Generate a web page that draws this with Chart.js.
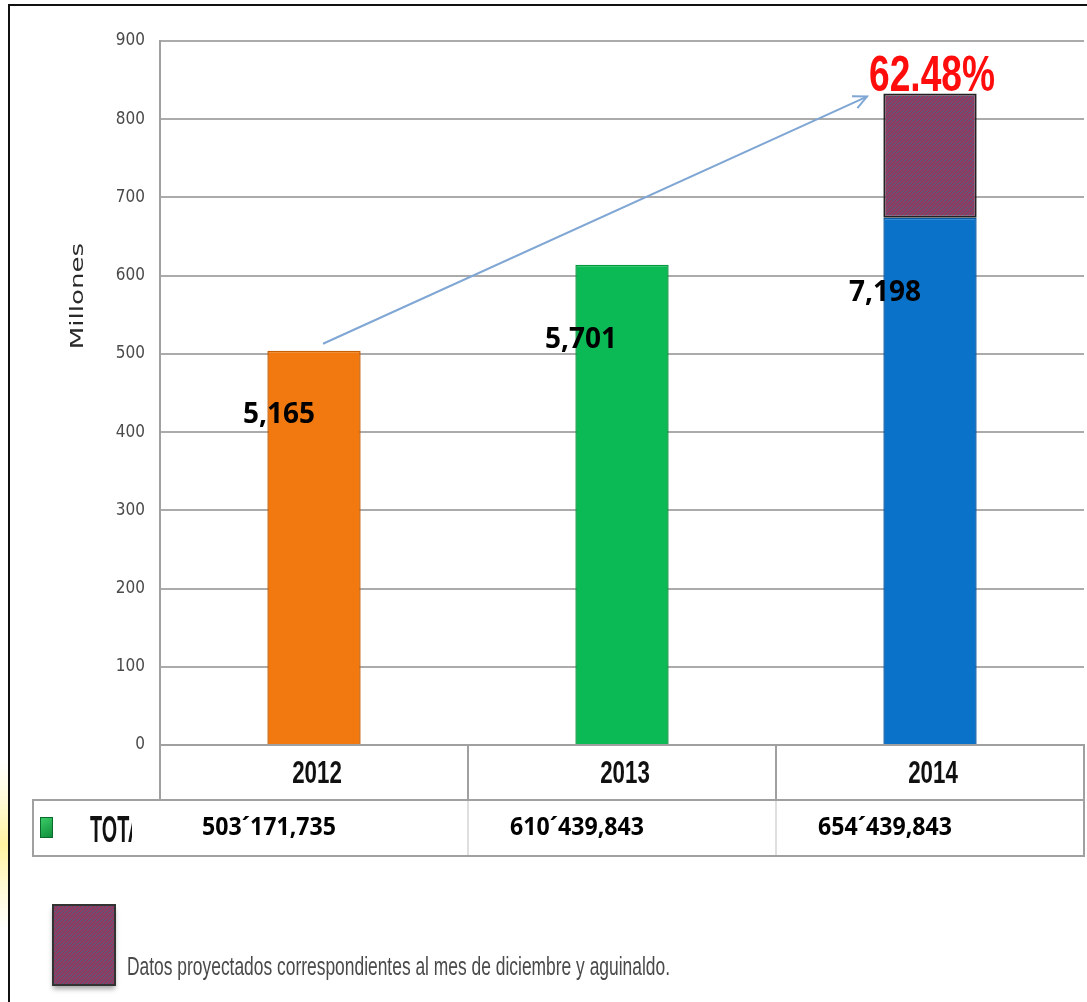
<!DOCTYPE html>
<html>
<head>
<meta charset="utf-8">
<script src="https://cdn.jsdelivr.net/npm/chart.js@4.4.0/dist/chart.umd.min.js"></script>
<style>
  html, body { margin: 0; padding: 0; background: #fff; overflow: hidden; }
  #wrap { width: 1087px; height: 1002px; position: relative; }
</style>
</head>
<body>
<div id="wrap"><canvas id="grafica"></canvas></div>
<script>
  // datos (millones)
  const anios = ["2012", "2013", "2014"];
  const montoReal = [504, 614, 674];
  const montoProyectado = [0, 0, 159];
  const etiquetasBarra = ["5,165", "5,701", "7,198"];
  const totales = ["503´171,735", "610´439,843", "654´439,843"];
  const porcentaje = "62.48%";
  const yMin = 0, yMax = 900, yPaso = 100;
  const tituloY = "Millones";
  const serieTotal = "TOTAL";
  const textoLeyenda = "Datos proyectados correspondientes al mes de diciembre y aguinaldo.";

  const canvas = document.getElementById("grafica");
  const ctx0 = canvas.getContext("2d");

  // relleno rayado para los datos proyectados
  function crearRayas() {
    const c = document.createElement("canvas");
    c.width = 8; c.height = 8;
    const g = c.getContext("2d");
    g.fillStyle = "#585c7e";
    g.fillRect(0, 0, 8, 8);
    g.strokeStyle = "#93395f";
    g.lineWidth = 2;
    g.beginPath();
    for (let k = -8; k <= 16; k += 4) { g.moveTo(k, 8); g.lineTo(k + 8, 0); }
    g.stroke();
    return ctx0.createPattern(c, "repeat");
  }
  const rayas = crearRayas();

  // texto angosto (la fuente original es condensada)
  function textoAngosto(ctx, txt, x, y, escala) {
    ctx.save();
    ctx.translate(x, y);
    ctx.scale(escala, 1);
    ctx.fillText(txt, 0, 0);
    ctx.restore();
  }

  const tabla = {
    id: "tabla",
    beforeDraw(chart) {
      const { ctx, width, height } = chart;
      ctx.save();
      ctx.fillStyle = "#fff";
      ctx.fillRect(0, 0, width, height);
      const gy = ctx.createLinearGradient(0, 760, 0, 930);
      gy.addColorStop(0, "rgba(255,244,170,0)");
      gy.addColorStop(0.5, "rgba(255,242,150,0.9)");
      gy.addColorStop(1, "rgba(255,244,170,0)");
      ctx.fillStyle = gy;
      ctx.fillRect(0, 760, 8, 170);
      ctx.strokeStyle = "#111";
      ctx.lineWidth = 2;
      ctx.beginPath();
      ctx.moveTo(9, height); ctx.lineTo(9, 5); ctx.lineTo(width, 5);
      ctx.stroke();
      ctx.restore();
    },
    afterDraw(chart) {
      const { ctx, chartArea: a } = chart;
      const sx = chart.scales.x, sy = chart.scales.y;
      ctx.save();

      // rotulos de los anios sobre las posiciones del eje x
      ctx.fillStyle = "#111";
      ctx.font = "bold 31px 'Liberation Sans', sans-serif";
      ctx.textAlign = "center";
      ctx.textBaseline = "middle";
      sx.ticks.forEach((t, i) => {
        textoAngosto(ctx, sx.getLabelForValue(t.value), sx.getPixelForTick(i) + 3, a.bottom + 29, 0.72);
      });

      // fila de totales
      const top = a.bottom + 55, bot = top + 56, izq = 33;
      ctx.strokeStyle = "#d4d4d4";
      ctx.lineWidth = 1.5;
      for (let i = 1; i < anios.length; i++) {
        const xb = (sx.getPixelForValue(i - 1) + sx.getPixelForValue(i)) / 2;
        ctx.beginPath(); ctx.moveTo(xb, top); ctx.lineTo(xb, bot); ctx.stroke();
      }
      ctx.strokeStyle = "#a0a0a0";
      ctx.lineWidth = 2;
      ctx.strokeRect(izq, top, a.right - izq, bot - top);

      // marcador verde
      const gm = ctx.createLinearGradient(40, 817, 53, 838);
      gm.addColorStop(0, "#3fd06a");
      gm.addColorStop(1, "#0b8a37");
      ctx.fillStyle = gm;
      ctx.fillRect(40, 817, 13, 21);
      ctx.strokeStyle = "#0b6a2b";
      ctx.lineWidth = 1;
      ctx.strokeRect(40.5, 817.5, 12, 20);

      // "TOTAL" recortado por la celda
      ctx.save();
      ctx.beginPath();
      ctx.rect(60, top + 1, 72, bot - top - 2);
      ctx.clip();
      ctx.fillStyle = "#111";
      ctx.font = "bold 36px 'Liberation Sans', sans-serif";
      ctx.textBaseline = "alphabetic";
      ctx.textAlign = "left";
      textoAngosto(ctx, serieTotal, 90, 842, 0.55);
      ctx.restore();

      ctx.fillStyle = "#000";
      ctx.font = "bold 25px 'Open Sans', sans-serif";
      ctx.textAlign = "center";
      ctx.textBaseline = "middle";
      totales.forEach((t, i) => {
        ctx.fillText(t, sx.getPixelForValue(i) - 45, top + 28, 134);
      });

      // etiquetas sobre las barras
      const posEtq = [{ dx: -35, v: 422 }, { dx: -41, v: 518 }, { dx: -45, v: 578 }];
      ctx.font = "bold 28px 'Open Sans', sans-serif";
      etiquetasBarra.forEach((t, i) => {
        ctx.fillText(t, sx.getPixelForValue(i) + posEtq[i].dx, sy.getPixelForValue(posEtq[i].v));
      });

      // flecha de crecimiento
      const x1 = sx.getPixelForValue(0) + 9, y1 = sy.getPixelForValue(513);
      const x2 = sx.getPixelForValue(2) - 63, y2 = sy.getPixelForValue(829);
      const ang = Math.atan2(y2 - y1, x2 - x1);
      ctx.strokeStyle = "#7fa6d4";
      ctx.lineWidth = 2;
      ctx.beginPath(); ctx.moveTo(x1, y1); ctx.lineTo(x2, y2); ctx.stroke();
      ctx.beginPath();
      ctx.moveTo(x2 - 15 * Math.cos(ang - 0.45), y2 - 15 * Math.sin(ang - 0.45));
      ctx.lineTo(x2, y2);
      ctx.lineTo(x2 - 15 * Math.cos(ang + 0.45), y2 - 15 * Math.sin(ang + 0.45));
      ctx.stroke();

      // porcentaje
      const ult = anios.length - 1;
      ctx.fillStyle = "#ff0d0d";
      ctx.font = "bold 50px 'Liberation Sans', sans-serif";
      ctx.textBaseline = "alphabetic";
      ctx.fillText(porcentaje, sx.getPixelForValue(ult) + 2,
        sy.getPixelForValue(montoReal[ult] + montoProyectado[ult]) - 2, 126);

      // titulo del eje y
      ctx.save();
      ctx.translate(78, 296);
      ctx.rotate(-Math.PI / 2);
      ctx.scale(1.45, 1);
      ctx.fillStyle = "#2a2a2a";
      ctx.font = "18px 'DejaVu Sans', sans-serif";
      ctx.textBaseline = "middle";
      ctx.textAlign = "center";
      ctx.fillText(tituloY, 0, 0);
      ctx.restore();

      // leyenda de datos proyectados
      ctx.save();
      ctx.shadowColor = "rgba(0,0,0,0.35)";
      ctx.shadowOffsetY = 4;
      ctx.shadowBlur = 5;
      ctx.fillStyle = rayas;
      ctx.fillRect(53, 905, 62, 80);
      ctx.restore();
      ctx.strokeStyle = "#333";
      ctx.lineWidth = 2;
      ctx.strokeRect(53, 905, 62, 80);
      ctx.fillStyle = "#4a4a4a";
      ctx.font = "25px 'Liberation Sans', sans-serif";
      ctx.textAlign = "left";
      ctx.textBaseline = "alphabetic";
      ctx.fillText(textoLeyenda, 127, 975, 543);

      ctx.restore();
    }
  };

  new Chart(canvas, {
    type: "bar",
    data: {
      labels: anios,
      datasets: [
        {
          label: serieTotal,
          data: montoReal,
          backgroundColor: ["#f1790f", "#0bb955", "#0a72c9"],
          borderColor: ["#c65f06", "#07983f", "#0659a4"],
          borderWidth: 1.5,
          stack: "s",
        },
        {
          label: "Proyectado",
          data: montoProyectado,
          backgroundColor: rayas,
          borderColor: "#222",
          borderWidth: 2,
          borderSkipped: false,
          stack: "s",
        },
      ],
    },
    options: {
      responsive: true,
      maintainAspectRatio: false,
      animation: false,
      layout: { padding: { top: 41, right: 3, left: 0, bottom: 0 } },
      datasets: { bar: { categoryPercentage: 1, barPercentage: 0.303 } },
      plugins: { legend: { display: false }, tooltip: { enabled: false } },
      scales: {
        x: {
          stacked: true,
          grid: { drawOnChartArea: false, offset: true, drawTicks: true, tickLength: 55, color: "#a0a0a0", lineWidth: 2 },
          border: { display: true, color: "#a0a0a0", width: 2 },
          ticks: { display: false },
          afterFit: (s) => { s.height = 257; },
        },
        y: {
          stacked: true,
          min: yMin,
          max: yMax,
          grid: { color: "#ababab", lineWidth: 2, drawTicks: false },
          border: { display: true, color: "#a0a0a0", width: 2 },
          ticks: { stepSize: yPaso, color: "#4a4a4a", padding: 15, font: { family: "'DejaVu Sans Condensed', 'DejaVu Sans', sans-serif", size: 17 } },
          afterFit: (s) => { s.width = 160; },
        },
      },
    },
    plugins: [tabla],
  });
</script>
</body>
</html>
